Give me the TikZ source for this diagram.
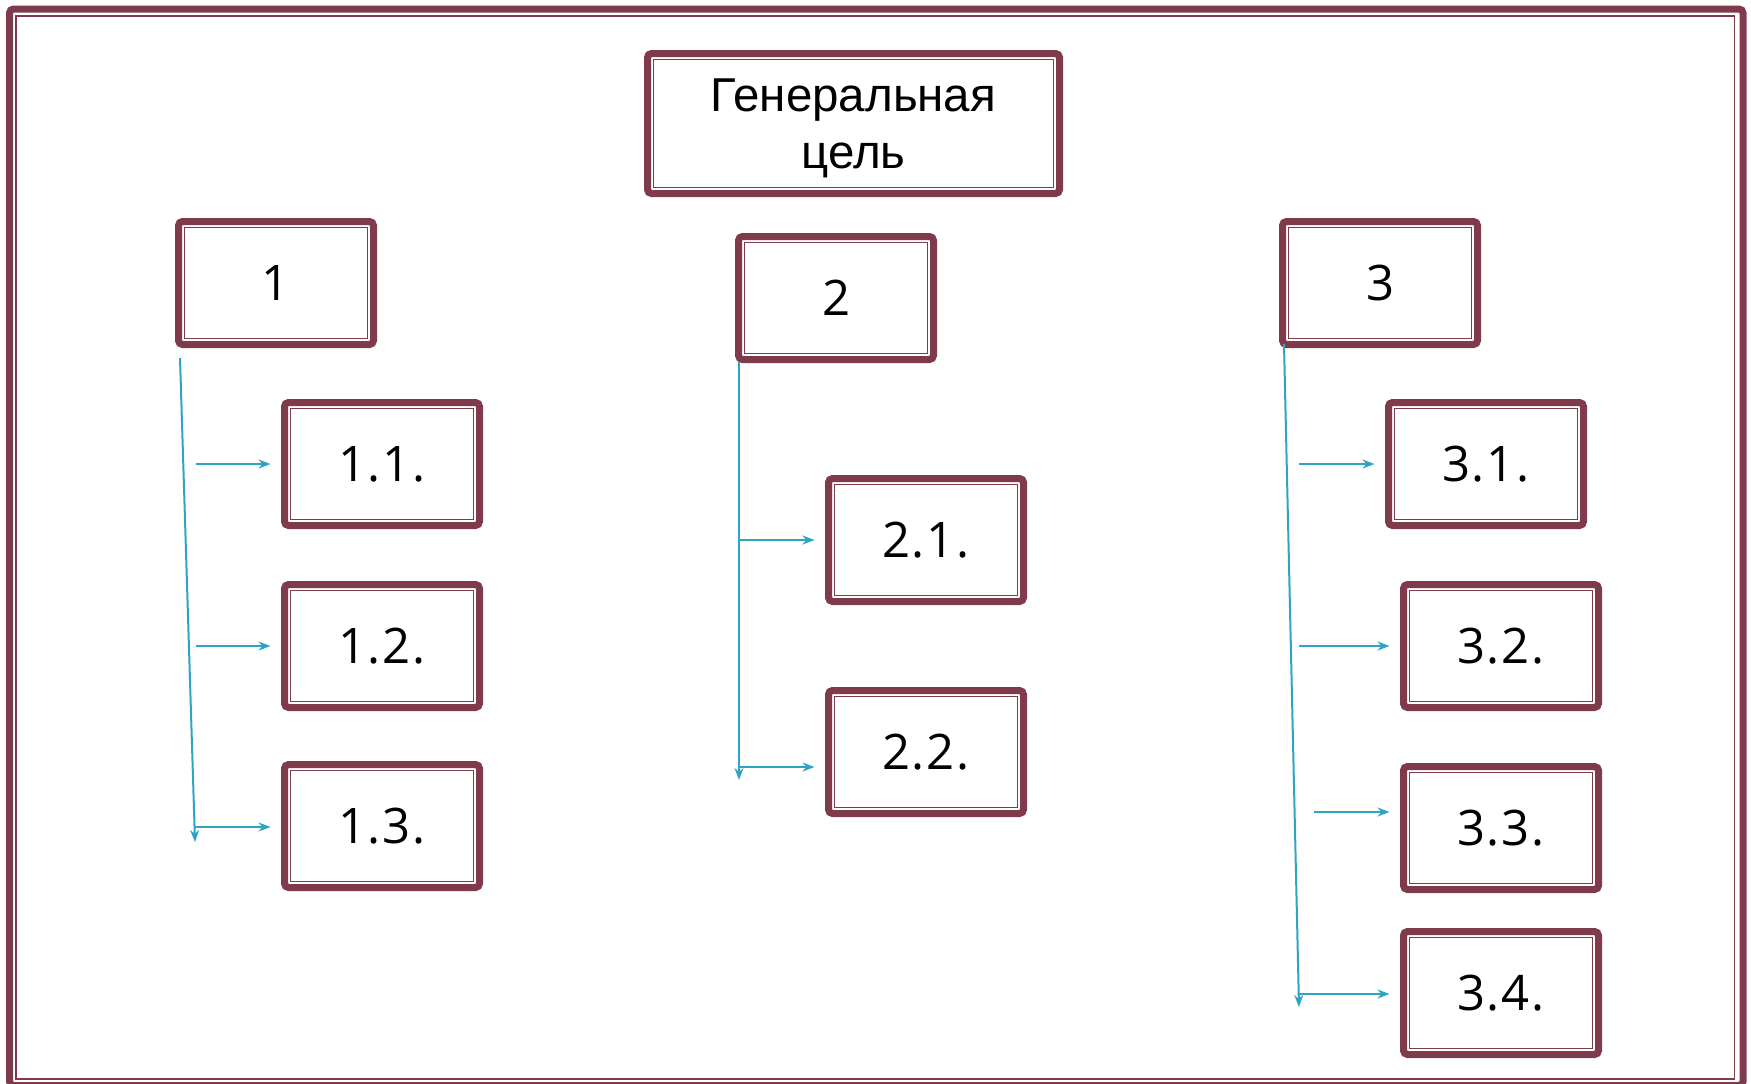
\documentclass[tikz,border=0pt]{standalone}
\usepackage{fontspec}
\setmainfont{Open Sans}[LetterSpace=4]
\newfontfamily\genfont{Liberation Sans}
\usetikzlibrary{arrows.meta}
\definecolor{maroonc}{HTML}{7F3B4B}
\definecolor{arrowc}{HTML}{2EA3C3}
\begin{document}
\begin{tikzpicture}[x=1pt,y=-1pt,
  box/.style={draw=maroonc, line width=7pt, rounded corners=4pt, outer sep=0pt, inner sep=0pt,
    minimum width=195pt, minimum height=123pt, font=\fontsize{49}{58}\selectfont},
  genbox/.style={box, minimum width=412pt, minimum height=140pt},
  gentext/.style={align=center, inner sep=0pt, font=\genfont\fontsize{47.5}{57}\selectfont},
  innerline/.style={draw=maroonc, line width=1.8pt},
  link/.style={draw=arrowc, line width=2pt, -{Stealth[length=12pt,width=9pt]}},
  gap/.style={shorten >=14pt}
]
\useasboundingbox (0,0) rectangle (1751,1084);
% outer frame
\draw[maroonc, line width=7pt, rounded corners=4pt] (9.5,9) rectangle (1743,1085.5);
\draw[maroonc, line width=1.5pt] (16,16) rectangle (1734.5,1079);

\node[genbox] (gen) at (853.5,123.5) {};
\node[gentext] (gentxt) at ([yshift=-5pt]gen.center) {Генеральная\\цель};
\node[box] (b1) at (276,283) {1};
\node[box] (b2) at (836,298) {2};
\node[box] (b3) at (1380,283) {3};
\node[box] (b11) at (382,464) {1.1.};
\node[box] (b12) at (382,646) {1.2.};
\node[box] (b13) at (382,826) {1.3.};
\node[box] (b21) at (926,540) {2.1.};
\node[box] (b22) at (926,752) {2.2.};
\node[box] (b31) at (1486,464) {3.1.};
\node[box] (b32) at (1501,646) {3.2.};
\node[box] (b33) at (1501,828) {3.3.};
\node[box] (b34) at (1501,993) {3.4.};

\foreach \n in {gen,b1,b2,b3,b11,b12,b13,b21,b22,b31,b32,b33,b34}
  \draw[innerline] ([xshift=6pt,yshift=-6pt]\n.north west) rectangle ([xshift=-6pt,yshift=6pt]\n.south east);

% branch 1
\coordinate (s1top) at (180,358);
\coordinate (s1bot) at (195,842);
\draw[link] (s1top) -- (s1bot);
\coordinate (a11) at (196,464);
\coordinate (a12) at (196,646);
\coordinate (a13) at (194.5,827);
\draw[link,gap] (a11) -- (a11 -| b11.west);
\draw[link,gap] (a12) -- (a12 -| b12.west);
\draw[link,gap] (a13) -- (a13 -| b13.west);

% branch 2
\coordinate (s2top) at (739,362);
\coordinate (s2bot) at (739,780);
\draw[link] (s2top) -- (s2bot);
\coordinate (a21) at (739,540);
\coordinate (a22) at (739,767);
\draw[link,gap] (a21) -- (a21 -| b21.west);
\draw[link,gap] (a22) -- (a22 -| b22.west);

% branch 3
\coordinate (s3top) at (1284,344);
\coordinate (s3bot) at (1299,1007);
\draw[link] (s3top) -- (s3bot);
\coordinate (a31) at (1299,464);
\coordinate (a32) at (1299,646);
\coordinate (a33) at (1314,812);
\coordinate (a34) at (1298.5,994);
\draw[link,gap] (a31) -- (a31 -| b31.west);
\draw[link,gap] (a32) -- (a32 -| b32.west);
\draw[link,gap] (a33) -- (a33 -| b33.west);
\draw[link,gap] (a34) -- (a34 -| b34.west);
\end{tikzpicture}
\end{document}
